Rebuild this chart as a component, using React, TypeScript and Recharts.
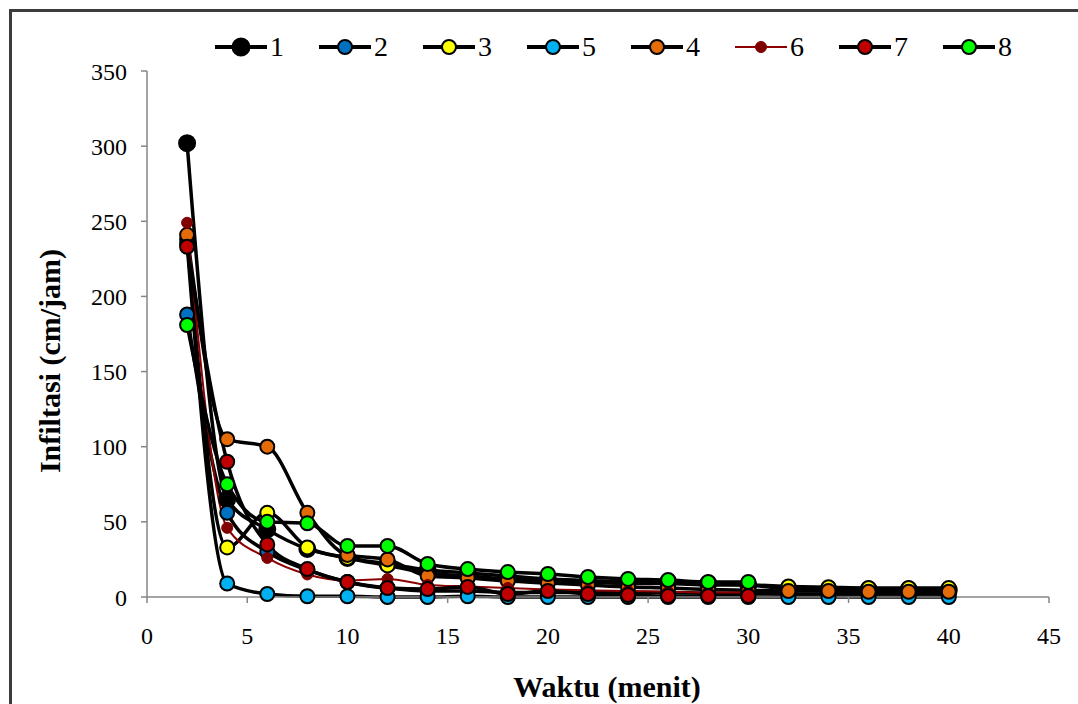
import React from 'react';
import { LineChart, Line, XAxis, YAxis, Legend } from 'recharts';

// Waktu (menit)
const TIME = [2, 4, 6, 8, 10, 12, 14, 16, 18, 20, 22, 24, 26, 28, 30, 32, 34, 36, 38, 40];
// Infiltasi (cm/jam) per series
const S1 = [302, 65, 45, 32, 26, 22, 18, 16, 14, 12, 11, 10, 10, 9, 8, 5.5, 5, 5, 5, 4.5];
const S2 = [188, 56, 30, 18, 10, 6, 4, 4, 3, 3, 3, 3, 3, 2.5, 2.5, 2, 2, 2, 2, 2];
const S3 = [238, 33, 56, 33, 26, 21, 16, 14, 12, 11, 10, 9, 9, 8, 8, 7, 6.5, 6, 6, 6];
const S5 = [235, 9, 2, 0.5, 0.5, 0, 0, 0.5, 0, 0, 0, 0, 0, 0, 0, 0, 0, 0, 0, 0];
const S4 = [241, 105, 100, 56, 28, 25, 14, 12.6, 10.6, 9.3, 8, 6.7, 6, 5, 4.5, 4, 4, 3.5, 3.5, 3.5];
const S6 = [249, 46, 26, 15, 11, 12, 8, 7, 6, 5, 4.5, 4, 3.5, 3, 3];
const S7 = [233, 90, 35, 18.6, 10, 6, 5.3, 6.7, 2, 4, 2, 1.3, 0.7, 0.7, 0.7];
const S8 = [181, 75, 50, 49, 34, 34, 22, 18.6, 16.6, 15.3, 13.3, 12, 11.3, 10, 10];

const X_TICKS = [0, 5, 10, 15, 20, 25, 30, 35, 40, 45];
const Y_TICKS = [0, 50, 100, 150, 200, 250, 300, 350];

type SeriesCfg = { key: string; name: string; values: number[]; fill: string; line: string; width: number; r: number; outline: boolean };

const SERIES: SeriesCfg[] = [
  { key: 's1', name: '1', values: S1, fill: '#000000', line: '#000000', width: 3.5, r: 8, outline: true },
  { key: 's2', name: '2', values: S2, fill: '#0070C0', line: '#000000', width: 3.5, r: 7, outline: true },
  { key: 's3', name: '3', values: S3, fill: '#FFFF00', line: '#000000', width: 3.5, r: 7, outline: true },
  { key: 's5', name: '5', values: S5, fill: '#00B0F0', line: '#000000', width: 3.5, r: 7, outline: true },
  { key: 's4', name: '4', values: S4, fill: '#E36C09', line: '#000000', width: 3.5, r: 7, outline: true },
  { key: 's6', name: '6', values: S6, fill: '#800000', line: '#8B0000', width: 2, r: 5.5, outline: false },
  { key: 's7', name: '7', values: S7, fill: '#C00000', line: '#000000', width: 3.5, r: 7, outline: true },
  { key: 's8', name: '8', values: S8, fill: '#00FF00', line: '#000000', width: 3.5, r: 7, outline: true },
];

const data = TIME.map((t, i) => {
  const row: Record<string, number | null> = { x: t };
  SERIES.forEach((s) => {
    row[s.key] = i < s.values.length ? s.values[i] : null;
  });
  return row;
});

const FONT = "'Liberation Serif', 'DejaVu Serif', serif";

const renderLegend = () => (
  <div style={{ position: 'relative', width: 1078, height: 32 }}>
    {SERIES.map((s, i) => (
      <div
        key={s.key}
        style={{
          position: 'absolute',
          left: 215 + i * 104,
          top: 0,
          height: 32,
          display: 'flex',
          alignItems: 'center',
        }}
      >
        <svg width={52} height={22}>
          <line x1={0} y1={11} x2={52} y2={11} stroke={s.line} strokeWidth={s.outline ? 4 : 2} />
          <circle
            cx={26}
            cy={11}
            r={s.outline ? (s.key === 's1' ? 8.5 : 7) : 5.5}
            fill={s.fill}
            stroke={s.outline ? '#000' : s.fill}
            strokeWidth={s.outline ? 2 : 1}
          />
        </svg>
        <span style={{ fontFamily: FONT, fontSize: 28, color: '#000', marginLeft: 3, lineHeight: '32px' }}>{s.name}</span>
      </div>
    ))}
  </div>
);

const YTitle = (props: any) => {
  const vb = props.viewBox || {};
  const cx = vb.x + 29;
  const cy = vb.y + vb.height / 2 + 27;
  return (
    <text
      x={cx}
      y={cy}
      transform={`rotate(-90, ${cx}, ${cy})`}
      textAnchor="middle"
      dominantBaseline="central"
      fontFamily={FONT}
      fontSize={30}
      fontWeight="bold"
      fill="#000"
    >
      Infiltasi (cm/jam)
    </text>
  );
};

const XTitle = (props: any) => {
  const vb = props.viewBox || {};
  const cx = vb.x + vb.width / 2 + 9;
  const cy = 686;
  return (
    <text
      x={cx}
      y={cy}
      textAnchor="middle"
      dominantBaseline="central"
      fontFamily={FONT}
      fontSize={30}
      fontWeight="bold"
      fill="#000"
    >
      Waktu (menit)
    </text>
  );
};

export default function App() {
  return (
    <div style={{ position: 'fixed', left: 0, top: 0, width: 1078, height: 704, background: '#fff', overflow: 'hidden', fontFamily: FONT }}>
      <div
        style={{
          position: 'absolute',
          left: 9,
          top: 9,
          width: 1200,
          height: 800,
          borderLeft: '3px solid #3c3c3c',
          borderTop: '3px solid #3c3c3c',
        }}
      />
      <div style={{ position: 'absolute', left: 0, top: 0 }}>
        <LineChart
          width={1078}
          height={704}
          data={data}
          margin={{ top: 71, right: 29, left: 20, bottom: 47 }}
        >
          <XAxis
            dataKey="x"
            type="number"
            domain={[0, 45]}
            ticks={X_TICKS}
            interval={0}
            height={60}
            tickSize={6}
            tickMargin={24}
            stroke="#868686"
            strokeWidth={1.5}
            tick={{ fontSize: 24, fill: '#000', fontFamily: FONT }}
            label={{ content: XTitle }}
          />
          <YAxis
            type="number"
            domain={[0, 350]}
            ticks={Y_TICKS}
            interval={0}
            width={127}
            tickSize={6}
            tickMargin={14}
            stroke="#868686"
            strokeWidth={1.5}
            tick={{ fontSize: 24, fill: '#000', fontFamily: FONT }}
            label={{ content: YTitle }}
          />
          <Legend verticalAlign="middle" layout="horizontal" content={renderLegend} wrapperStyle={{ top: 31, left: 0, width: 1078 }} />
          {SERIES.map((s) => (
            <Line
              key={s.key}
              dataKey={s.key}
              name={s.name}
              type="monotone"
              stroke={s.line}
              strokeWidth={s.width}
              isAnimationActive={false}
              activeDot={false}
              dot={{ r: s.r, fill: s.fill, stroke: s.outline ? '#000' : s.fill, strokeWidth: s.outline ? 2 : 1 }}
            />
          ))}
        </LineChart>
      </div>
    </div>
  );
}
